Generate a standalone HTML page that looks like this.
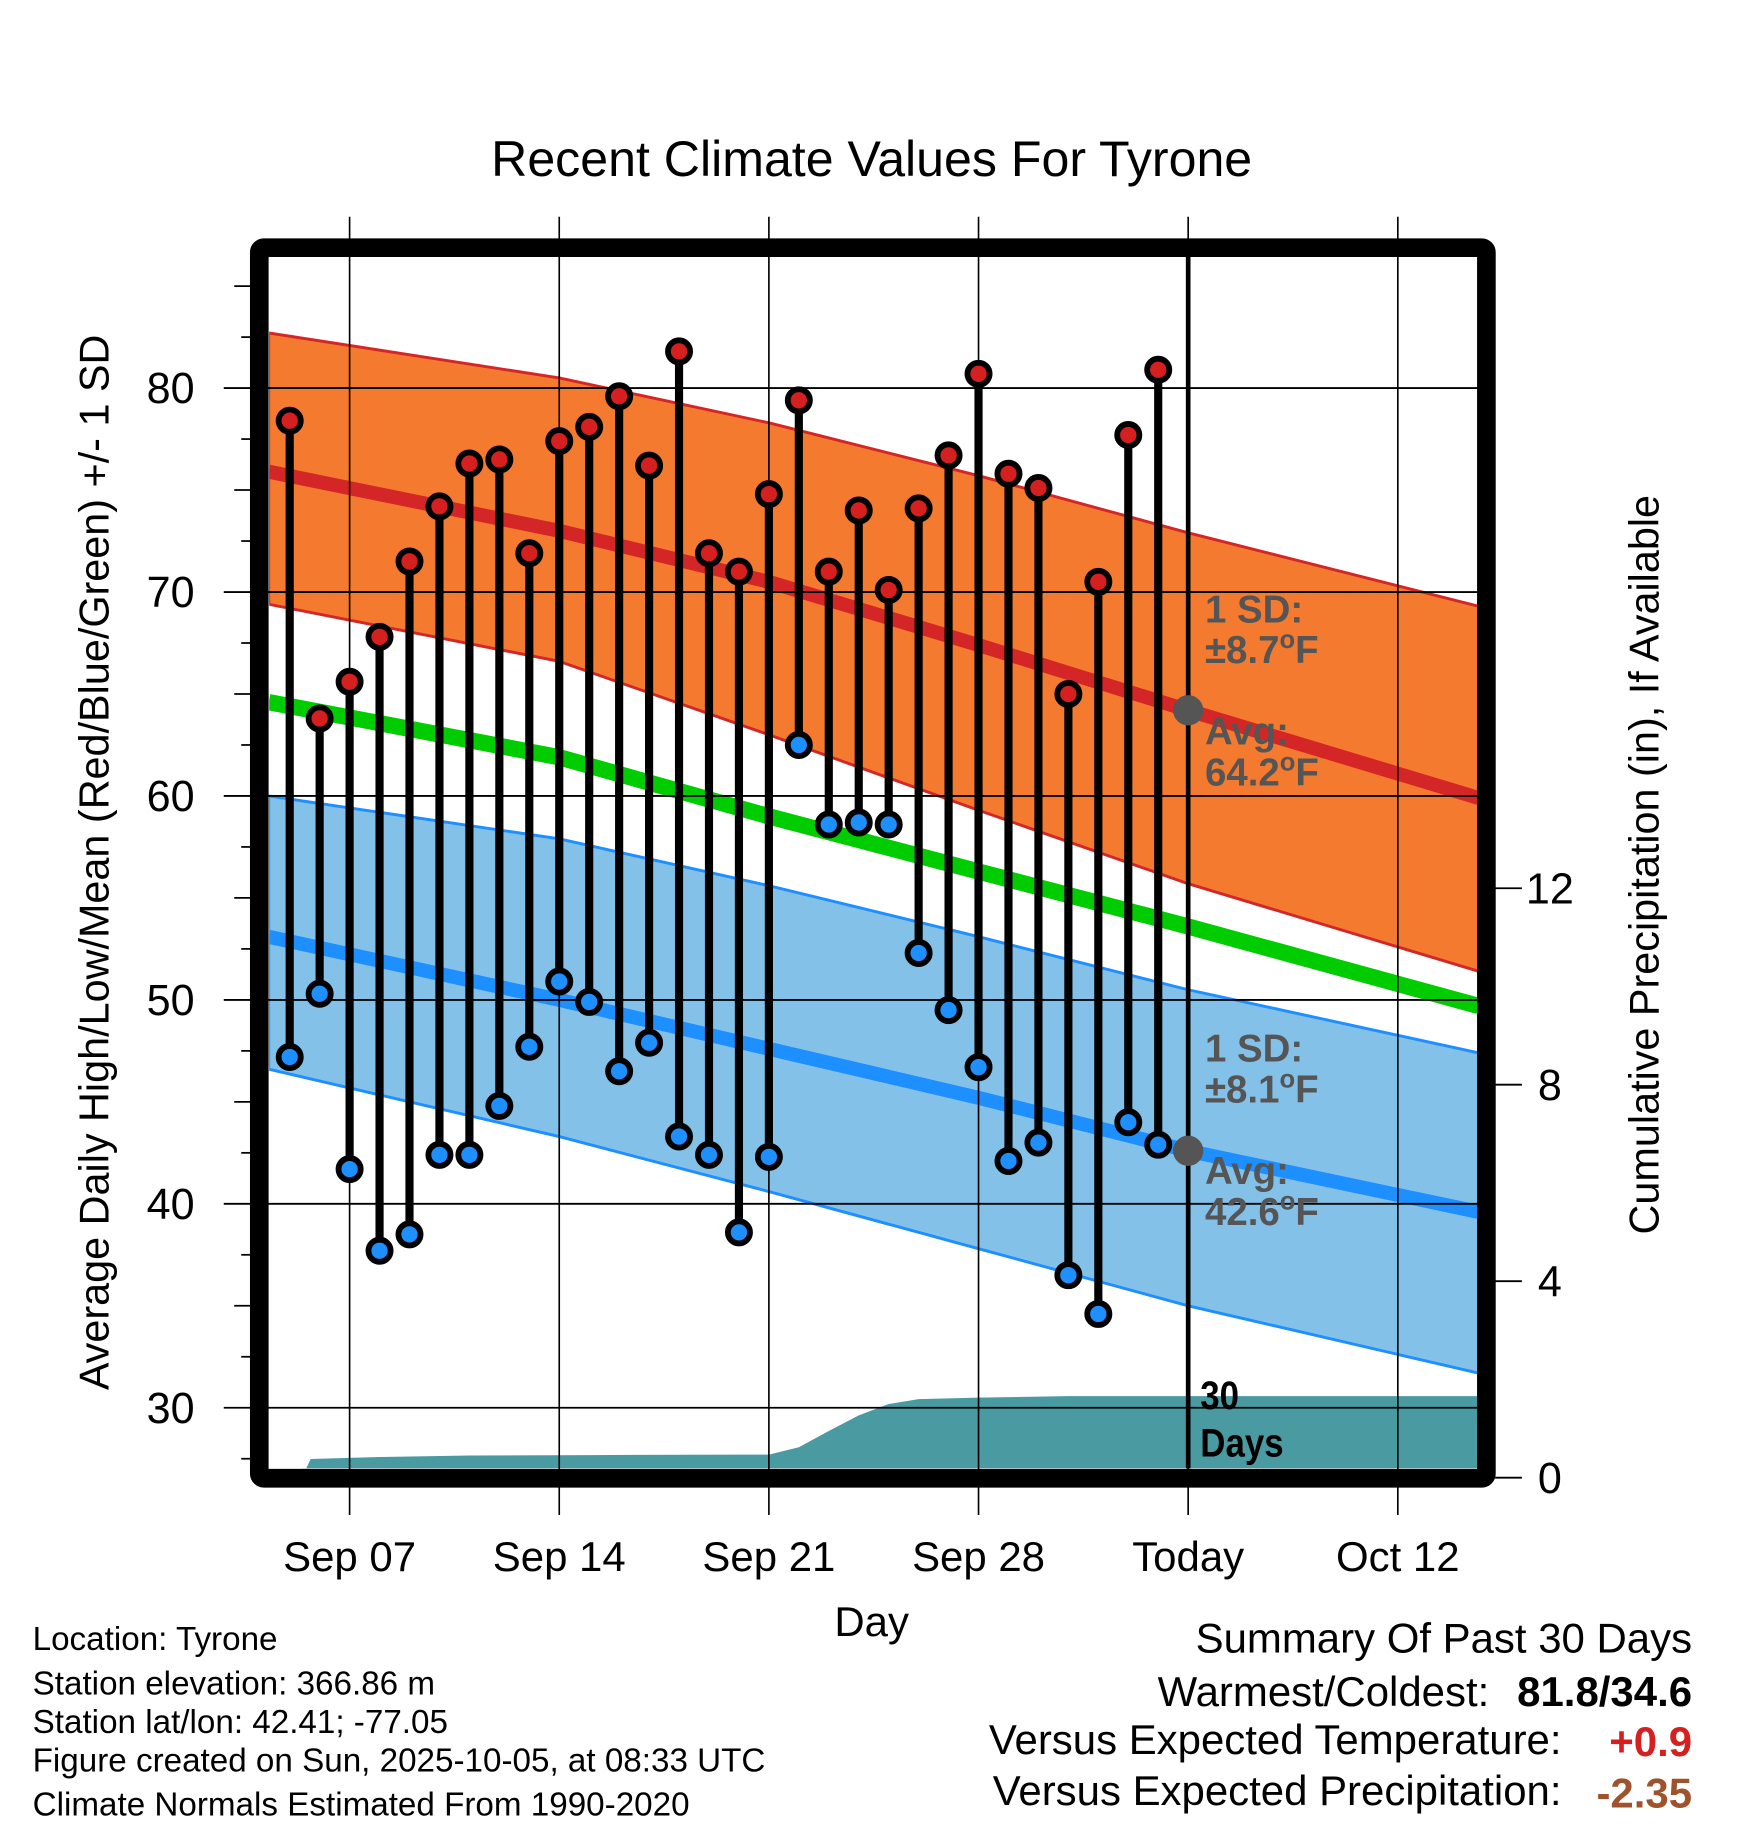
<!DOCTYPE html>
<html><head><meta charset="utf-8"><style>
html,body{margin:0;padding:0;background:#fff;}
svg{display:block;font-family:"Liberation Sans",Arial,sans-serif;}
</style></head><body>
<svg id="chart" width="1748" height="1828" viewBox="0 0 1500 1568.6" xmlns="http://www.w3.org/2000/svg">
<text x="748" y="151" font-size="43" text-anchor="middle">Recent Climate Values For Tyrone</text>
<g id="bg"></g>
<g id="marks"></g>
</svg>
<script>
const days=[5,6,7,8,9,10,11,12,13,14,15,16,17,18,19,20,21,22,23,24,25,26,27,28,29,30,31,32,33,34];
const highs=[78.4,63.8,65.6,67.8,71.5,74.2,76.3,76.5,71.9,77.4,78.1,79.6,76.2,81.8,71.9,71.0,74.8,79.4,71.0,74.0,70.1,74.1,76.7,80.7,75.8,75.1,65.0,70.5,77.7,80.9];
const lows=[47.2,50.3,41.7,37.7,38.5,42.4,42.4,44.8,47.7,50.9,49.9,46.5,47.9,43.3,42.4,38.6,42.3,62.5,58.6,58.7,58.6,52.3,49.5,46.7,42.1,43.0,36.5,34.6,44.0,42.9];
const normDays=[4.3,14,21,28,35,44.7];
const highMean=[75.9,73.0,70.5,67.4,64.2,59.9];
const highUpper=[82.7,80.5,78.3,75.7,72.9,69.3];
const highLower=[69.4,66.6,63.0,59.3,55.7,51.4];
const meanLine=[64.6,61.9,59.0,56.3,53.6,49.7];
const lowMean=[53.1,50.0,47.6,45.2,42.6,39.6];
const lowUpper=[60.0,57.9,55.6,53.1,50.5,47.4];
const lowLower=[46.6,43.3,40.6,37.8,35.0,31.7];
const precipDays=[5.4,5.7,8,11,15,20,21,22,23,24,25,26,28,31,35,44.7];
const precipVals=[0,0.38,0.42,0.45,0.46,0.47,0.47,0.62,0.95,1.27,1.5,1.6,1.63,1.66,1.66,1.66];
const yTicks=[30,40,50,60,70,80];
const pTicks=[0,4,8,12];
const xTickDays=[7,14,21,28,35,42];
const xTickLabels=["Sep 07","Sep 14","Sep 21","Sep 28","Today","Oct 12"];

const X0=231,X1=1268,Y0=220,Y1=1260;
function x(d){return 300+(d-7)*25.7;}
function y(t){return 333+(80-t)*17.5;}
function yp(p){return 1268-p*42.15;}
const NS="http://www.w3.org/2000/svg";
const bg=document.getElementById('bg'),mk=document.getElementById('marks');
function el(tag,attrs,parent,txt){const e=document.createElementNS(NS,tag);for(const k in attrs)e.setAttribute(k,attrs[k]);if(txt!==undefined)e.textContent=txt;parent.appendChild(e);return e;}
function ptsLine(ds,vs,f){return ds.map((d,i)=>x(d).toFixed(1)+','+f(vs[i]).toFixed(1)).join(' ');}
function band(up,lo){return ptsLine(normDays,up,y)+' '+ptsLine(normDays.slice().reverse(),lo.slice().reverse(),y);}

const defs=el('defs',{},bg);const cp=el('clipPath',{id:'pc'},defs);el('rect',{x:X0,y:Y0,width:X1-X0,height:Y1-Y0},cp);
const g=el('g',{'clip-path':'url(#pc)'},bg);
let e;
e=el('polygon',{points:band(highUpper,highLower),fill:'#f47a30',stroke:'#d42626','stroke-width':2.5,'stroke-linejoin':'round'},g);

e=el('polygon',{points:band(lowUpper,lowLower),fill:'#84c1e8',stroke:'#1e8fff','stroke-width':2.5,'stroke-linejoin':'round'},g);

e=el('polyline',{points:ptsLine(normDays,highMean,y),fill:'none',stroke:'#d42626','stroke-width':12,'stroke-linejoin':'round'},g);

e=el('polyline',{points:ptsLine(normDays,meanLine,y),fill:'none',stroke:'#00cc00','stroke-width':14,'stroke-linejoin':'round'},g);

e=el('polyline',{points:ptsLine(normDays,lowMean,y),fill:'none',stroke:'#1e8fff','stroke-width':12,'stroke-linejoin':'round'},g);

e=el('polygon',{points:ptsLine(precipDays,precipVals,yp)+' '+x(44.7)+','+Y1+' '+x(5.4)+','+Y1,fill:'#4a9aa2','stroke-linejoin':'round'},g);


yTicks.forEach(t=>{e=el('line',{x1:192,x2:X1,y1:y(t),y2:y(t),stroke:'#000','stroke-width':1.6},bg);

e=el('text',{x:167,y:y(t)+13,'font-size':37,'text-anchor':'end'},bg,String(t));
});
[27.5,32.5,35,37.5,42.5,45,47.5,52.5,55,57.5,62.5,65,67.5,72.5,75,77.5,82.5,85].forEach(t=>{
 const len=(t%5===0)?14:8;el('line',{x1:215-len,x2:215,y1:y(t),y2:y(t),stroke:'#000','stroke-width':1.5},bg);});
xTickDays.forEach((d,i)=>{e=el('line',{x1:x(d),x2:x(d),y1:186,y2:1300,stroke:'#000','stroke-width':1.4},bg);

e=el('text',{x:x(d),y:1348,'font-size':36,'text-anchor':'middle'},bg,xTickLabels[i]);
});
pTicks.forEach(p=>{el('line',{x1:1283,x2:1306,y1:yp(p),y2:yp(p),stroke:'#000','stroke-width':1.6},bg);
e=el('text',{x:1330,y:yp(p)+13,'font-size':37,'text-anchor':'middle'},bg,String(p));
});
e=el('line',{x1:x(35),x2:x(35),y1:Y0,y2:Y1,stroke:'#000','stroke-width':4},bg);


days.forEach((d,i)=>{
 e=el('line',{x1:x(d),x2:x(d),y1:y(highs[i]),y2:y(lows[i]),stroke:'#000','stroke-width':7},mk);
 
});
days.forEach((d,i)=>{
 e=el('circle',{cx:x(d),cy:y(highs[i]),r:9.5,fill:'#d62020',stroke:'#000','stroke-width':5},mk);
 
 e=el('circle',{cx:x(d),cy:y(lows[i]),r:9.5,fill:'#1e8fff',stroke:'#000','stroke-width':5},mk);
 
});
e=el('circle',{cx:x(35),cy:y(64.2),r:13,fill:'#555'},mk);

e=el('circle',{cx:x(35),cy:y(42.6),r:13,fill:'#555'},mk);


e=el('rect',{x:222.5,y:212.5,width:1053,height:1056,fill:'none',stroke:'#000','stroke-width':16,rx:4},mk);

</script>
<svg style="position:absolute;left:0;top:0" width="1748" height="1828" viewBox="0 0 1500 1568.6" xmlns="http://www.w3.org/2000/svg" font-family="Liberation Sans, Arial, sans-serif">
<g fill="#555" font-weight="bold" font-size="33">
<text x="1034" y="534">1 SD:</text>
<text x="1034" y="569">±8.7<tspan font-size="22" dy="-13">o</tspan><tspan dy="13">F</tspan></text>
<text x="1034" y="639">Avg:</text>
<text x="1034" y="674">64.2<tspan font-size="22" dy="-13">o</tspan><tspan dy="13">F</tspan></text>
<text x="1034" y="911">1 SD:</text>
<text x="1034" y="946">±8.1<tspan font-size="22" dy="-13">o</tspan><tspan dy="13">F</tspan></text>
<text x="1034" y="1016">Avg:</text>
<text x="1034" y="1051">42.6<tspan font-size="22" dy="-13">o</tspan><tspan dy="13">F</tspan></text>
</g>
<text x="1030" y="1209" font-size="34" font-weight="bold" transform="translate(1030 0) scale(0.88 1) translate(-1030 0)">30</text>
<text x="1030" y="1250" font-size="34" font-weight="bold" transform="translate(1030 0) scale(0.88 1) translate(-1030 0)">Days</text>
<text x="748" y="1404" font-size="36" text-anchor="middle">Day</text>
<text transform="translate(93 740) rotate(-90)" font-size="35.5" text-anchor="middle">Average Daily High/Low/Mean (Red/Blue/Green) +/- 1 SD</text>
<text transform="translate(1423 742) rotate(-90)" font-size="35.5" text-anchor="middle">Cumulative Precipitation (in), If Available</text>
<g font-size="28.5">
<text x="28" y="1416">Location: Tyrone</text>
<text x="28" y="1454">Station elevation: 366.86 m</text>
<text x="28" y="1487">Station lat/lon: 42.41; -77.05</text>
<text x="28" y="1520">Figure created on Sun, 2025-10-05, at 08:33 UTC</text>
<text x="28" y="1558">Climate Normals Estimated From 1990-2020</text>
</g>
<g font-size="36" text-anchor="end">
<text x="1452" y="1418">Summary Of Past 30 Days</text>
<text x="1278" y="1464">Warmest/Coldest:</text>
<text x="1452" y="1464" font-weight="bold">81.8/34.6</text>
<text x="1340" y="1505">Versus Expected Temperature:</text>
<text x="1452" y="1507" font-weight="bold" fill="#d62020">+0.9</text>
<text x="1340" y="1549">Versus Expected Precipitation:</text>
<text x="1452" y="1551" font-weight="bold" fill="#a0522d">-2.35</text>
</g>
</svg>
</body></html>
